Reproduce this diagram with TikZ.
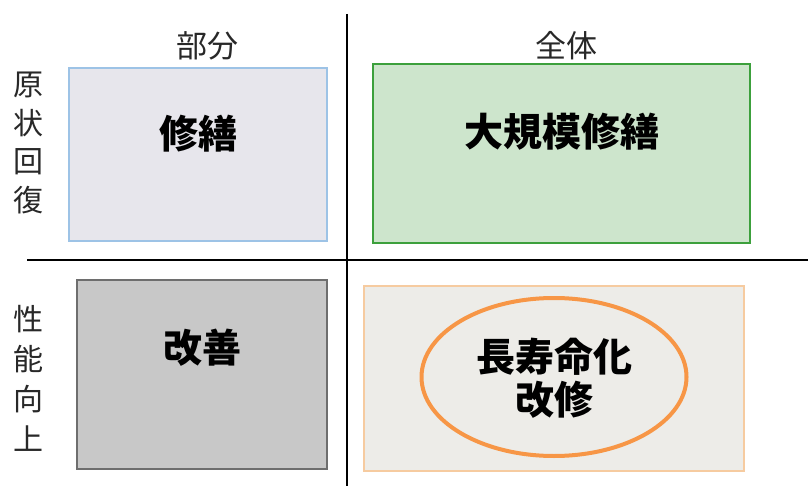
\documentclass[tikz,border=0pt]{standalone}
\usepackage{fontspec}
\newfontfamily\cjk{Noto Sans CJK JP}
\usetikzlibrary{shapes.geometric}
\definecolor{fillA}{RGB}{231,230,236}
\definecolor{lineA}{RGB}{157,195,230}
\definecolor{fillB}{RGB}{205,229,204}
\definecolor{lineB}{RGB}{60,160,60}
\definecolor{fillC}{RGB}{200,200,200}
\definecolor{lineC}{RGB}{110,110,110}
\definecolor{fillD}{RGB}{237,236,232}
\definecolor{lineD}{RGB}{246,203,160}
\definecolor{ovalcol}{RGB}{247,150,70}
\definecolor{labcol}{RGB}{40,40,40}
\tikzset{
  box/.style={draw, line width=1.5pt, inner sep=0pt},
  bigtext/.style={font=\cjk\bfseries\fontsize{39}{43}\selectfont, align=center, inner sep=0pt},
  axislab/.style={font=\cjk\fontsize{30}{38.5}\selectfont, text=labcol, align=center, inner sep=0pt},
  axisline/.style={draw=black, line width=2.8pt}
}
\begin{document}
\begin{tikzpicture}[x=1pt,y=-1pt]
\useasboundingbox (0,0) rectangle (808,486);
% axes
\coordinate (vtop) at (347,14);
\coordinate (vbot) at (347,486);
\coordinate (hleft) at (27,260);
\coordinate (hright) at (808,260);
\draw[axisline] (vtop) -- (vbot);
\draw[axisline] (hleft) -- (hright);
% boxes
\node[box, draw=lineA, fill=fillA, minimum width=258pt, minimum height=173pt] (b1) at (198,154.5) {};
\node[box, draw=lineB, fill=fillB, minimum width=377pt, minimum height=179pt] (b2) at (561.5,153.5) {};
\node[box, draw=lineC, fill=fillC, minimum width=250pt, minimum height=189pt] (b3) at (202,374.5) {};
\node[box, draw=lineD, fill=fillD, minimum width=380pt, minimum height=185pt] (b4) at (554,378.5) {};
\node[ellipse, draw=ovalcol, line width=4pt, minimum width=265pt, minimum height=158pt, inner sep=0pt] (ov) at (554,377) {};
% texts
\node[bigtext] (t1) at (198,134) {修繕};
\node[bigtext] (t2) at (562,132) {大規模修繕};
\node[bigtext] (t3) at (202,348) {改善};
\node[bigtext] (t4) at (554,378) {長寿命化\\改修};
% axis labels
\node[axislab, font=\cjk\fontsize{31}{38.5}\selectfont] (l1) at (207,46) {部分};
\node[axislab, font=\cjk\fontsize{31}{38.5}\selectfont] (l2) at (566,46) {全体};
\node[axislab] (l3) at (28,143) {原\\状\\回\\復};
\node[axislab, font=\cjk\fontsize{30}{40}\selectfont] (l4) at (28,378) {性\\能\\向\\上};
\end{tikzpicture}
\end{document}
